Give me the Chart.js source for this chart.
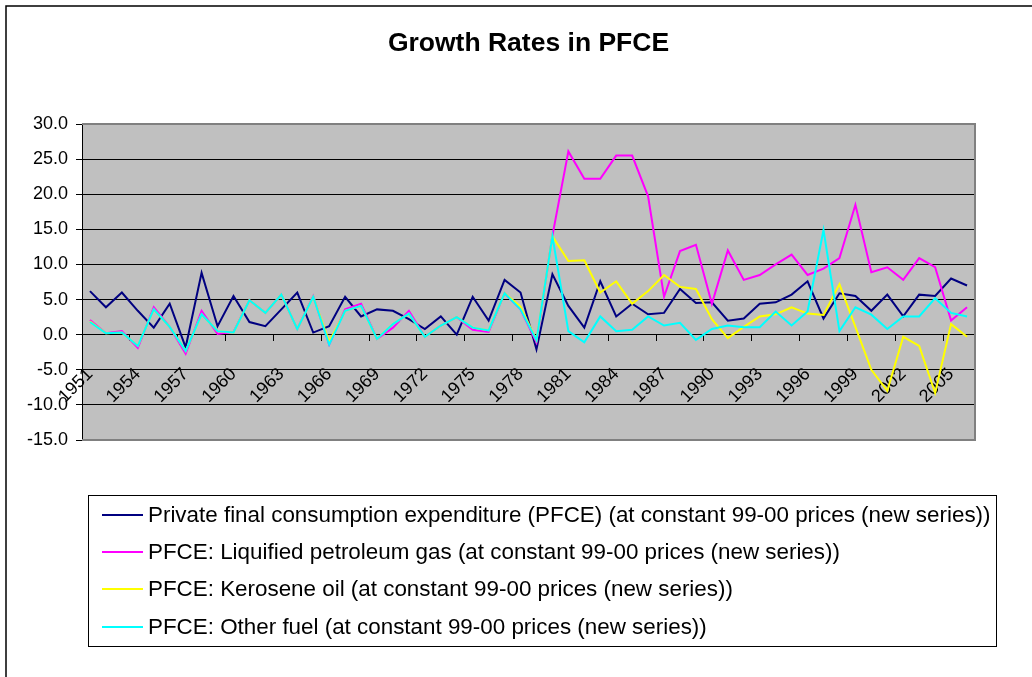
<!DOCTYPE html>
<html>
<head>
<meta charset="utf-8">
<script src="https://cdn.jsdelivr.net/npm/chart.js@4.4.1/dist/chart.umd.min.js"></script>
<style>
html,body{margin:0;padding:0;background:#fff;}
#wrap{position:relative;width:1032px;height:677px;overflow:hidden;}
#legend{position:absolute;left:88px;top:495px;width:907px;height:150px;border:1px solid #000;
  font-family:"Liberation Sans",Arial,sans-serif;font-size:22.4px;color:#000;}
.row{height:37.4px;display:flex;align-items:center;white-space:nowrap;}
.swatch{display:inline-block;width:41px;height:2px;margin-left:13px;margin-right:5px;}
</style>
</head>
<body>
<div id="wrap">
  <canvas id="c" width="1032" height="677"></canvas>
  <div id="legend"></div>
</div>
<script>
// ---------- data ----------
const years = ['1951','1952','1953','1954','1955','1956','1957','1958','1959','1960',
  '1961','1962','1963','1964','1965','1966','1967','1968','1969','1970',
  '1971','1972','1973','1974','1975','1976','1977','1978','1979','1980',
  '1981','1982','1983','1984','1985','1986','1987','1988','1989','1990',
  '1991','1992','1993','1994','1995','1996','1997','1998','1999','2000',
  '2001','2002','2003','2004','2005','2006'];
const shownYearLabels = ['1951','1954','1957','1960','1963','1966','1969','1972','1975',
  '1978','1981','1984','1987','1990','1993','1996','1999','2002','2005'];
const yTickMin = -15;
const yTickMax = 30;
const yTickStep = 5;

const pfce = [6.2,3.9,6.0,3.4,1.0,4.4,-1.8,8.8,1.2,5.5,
  1.8,1.2,3.6,6.0,0.3,1.2,5.4,2.6,3.6,3.4,
  2.2,0.8,2.6,0.0,5.4,2.0,7.8,6.0,-2.1,8.6,
  4.1,1.0,7.6,2.6,4.4,2.9,3.1,6.5,4.5,4.6,
  2.0,2.3,4.4,4.6,5.7,7.6,2.3,5.9,5.5,3.4,
  5.7,2.6,5.7,5.5,8.0,7.0];
const lpg = [2.1,0.2,0.5,-1.9,3.9,1.1,-2.7,3.4,0.1,0.4,
  4.9,3.1,5.7,0.8,5.5,-1.4,3.6,4.4,-0.6,1.0,
  3.4,-0.3,1.3,2.5,0.7,0.4,5.9,3.6,-1.1,14.1,
  26.1,22.2,22.2,25.5,25.5,19.7,5.4,11.9,12.8,4.4,
  12.0,7.8,8.5,10.0,11.4,8.5,9.4,10.9,18.5,8.9,
  9.6,7.8,10.9,9.6,2.0,3.9];
const kerosene = [1.9,0.2,0.3,-1.6,3.6,1.1,-2.3,2.9,0.5,0.3,
  4.9,3.1,5.7,0.8,5.4,-1.0,3.4,4.1,-0.6,1.5,
  3.0,-0.3,1.3,2.5,1.0,0.6,5.9,4.0,-0.8,14.0,
  10.5,10.6,6.0,7.6,4.4,6.2,8.5,6.8,6.5,2.2,
  -0.5,1.1,2.6,2.9,3.9,3.0,2.8,7.2,1.1,-5.0,
  -8.0,-0.3,-1.6,-8.3,1.5,-0.3];
const otherFuel = [1.8,0.2,0.3,-1.6,3.6,1.1,-2.3,2.9,0.5,0.3,
  4.9,3.1,5.7,0.8,5.4,-1.4,3.4,4.1,-0.6,1.5,
  3.0,-0.3,1.3,2.5,1.0,0.6,5.9,3.6,-0.8,14.0,
  0.5,-1.1,2.6,0.5,0.7,2.6,1.3,1.7,-0.75,0.8,
  1.3,1.05,1.05,3.3,1.3,3.3,14.9,0.5,3.9,2.85,
  0.8,2.6,2.6,5.2,3.1,2.6];
const seriesNames = [
  'Private final consumption expenditure (PFCE) (at constant 99-00 prices (new series))',
  'PFCE: Liquified petroleum gas (at constant 99-00 prices (new series))',
  'PFCE: Kerosene oil (at constant 99-00 prices (new series))',
  'PFCE: Other fuel (at constant 99-00 prices (new series))'
];
const seriesColors = ['#000080','#FF00FF','#FFFF00','#00FFFF'];
const chartTitle = 'Growth Rates in PFCE';

// ---------- plugins ----------
const FONT = '"Liberation Sans", Arial, sans-serif';
const plotFrame = {
  id: 'plotFrame',
  beforeDraw(chart) {
    const {ctx, chartArea: a} = chart;
    ctx.save();
    ctx.fillStyle = '#C0C0C0';
    ctx.fillRect(a.left, a.top, a.right - a.left, a.bottom - a.top);
    ctx.strokeStyle = '#000';
    ctx.lineWidth = 1.5;
    ctx.beginPath();
    ctx.moveTo(6, 677); ctx.lineTo(6, 6); ctx.lineTo(1032, 6);
    ctx.stroke();
    ctx.restore();
  },
  beforeDatasetsDraw(chart) {
    const {ctx, chartArea: a} = chart;
    ctx.save();
    ctx.strokeStyle = '#808080';
    ctx.lineWidth = 2;
    ctx.beginPath();
    ctx.moveTo(a.left, a.top); ctx.lineTo(a.right, a.top);
    ctx.lineTo(a.right, a.bottom); ctx.lineTo(a.left, a.bottom);
    ctx.stroke();
    ctx.restore();
  }
};
const htmlLegend = {
  id: 'htmlLegend',
  afterUpdate(chart) {
    const el = document.getElementById('legend');
    el.innerHTML = '';
    chart.data.datasets.forEach(ds => {
      const row = document.createElement('div');
      row.className = 'row';
      const sw = document.createElement('span');
      sw.className = 'swatch';
      sw.style.background = ds.borderColor;
      const t = document.createElement('span');
      t.textContent = ds.label;
      row.append(sw, t);
      el.append(row);
    });
  }
};

// ---------- chart ----------
const seriesData = [pfce, lpg, kerosene, otherFuel];
new Chart(document.getElementById('c'), {
  type: 'line',
  data: {
    labels: years,
    datasets: seriesData.map((d, i) => ({
      label: seriesNames[i],
      data: d,
      borderColor: seriesColors[i],
      backgroundColor: seriesColors[i],
      order: 4 - i
    }))
  },
  options: {
    responsive: false,
    animation: false,
    devicePixelRatio: 1,
    layout: {padding: {left: 0, top: 0, right: 57, bottom: 237}},
    elements: {
      line: {borderWidth: 2, tension: 0, fill: false},
      point: {radius: 0, hoverRadius: 0}
    },
    plugins: {
      legend: {display: false},
      tooltip: {enabled: false},
      title: {
        display: true, text: chartTitle, fullSize: false, color: '#000',
        font: {family: FONT, size: 26.5, weight: 'bold'},
        padding: {top: 28, bottom: 64.2}
      }
    },
    scales: {
      x: {
        position: {y: 0},
        offset: true,
        grid: {
          drawOnChartArea: false, offset: true, tickLength: 6, tickWidth: 1,
          tickColor: c => (c.index % 3 === 0 ? '#000' : 'rgba(0,0,0,0)')
        },
        border: {display: true, color: '#000', width: 1},
        ticks: {
          autoSkip: false, maxRotation: 45, minRotation: 45, padding: 23,
          color: '#000', font: {family: FONT, size: 18},
          callback(v) {
            const l = this.getLabelForValue(v);
            return shownYearLabels.includes(l) ? l : '';
          }
        },
        afterFit(s) { s.height = 0; }
      },
      y: {
        min: yTickMin, max: yTickMax,
        ticks: {
          stepSize: yTickStep, padding: 8, color: '#000',
          font: {family: FONT, size: 18},
          callback: v => Number(v).toFixed(1)
        },
        grid: {
          color: c => (c.tick && (c.tick.value === yTickMax || c.tick.value === yTickMin)) ? '#808080' : '#000',
          lineWidth: 1, tickLength: 6, tickColor: '#000'
        },
        border: {display: true, color: '#000', width: 1},
        afterFit(s) { s.width = 82; }
      }
    }
  },
  plugins: [plotFrame, htmlLegend]
});
</script>
</body>
</html>
